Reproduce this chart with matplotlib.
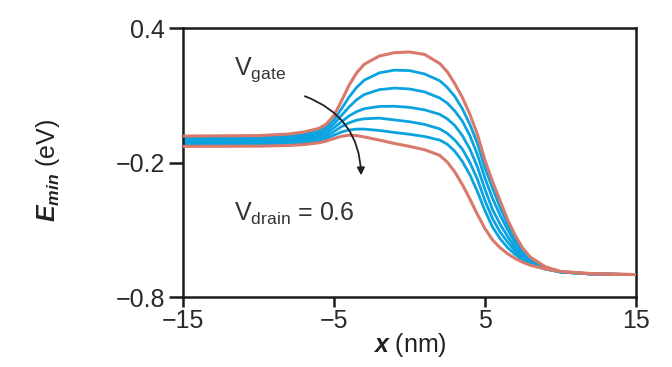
import numpy as np
import matplotlib
matplotlib.use("Agg")
import matplotlib.pyplot as plt

plt.rcParams['font.family'] = ['Liberation Sans', 'DejaVu Sans']
plt.rcParams['mathtext.fontset'] = 'custom'
plt.rcParams['mathtext.rm'] = 'Liberation Sans'
plt.rcParams['mathtext.it'] = 'Liberation Sans:italic:bold'
plt.rcParams['mathtext.bf'] = 'Liberation Sans:bold'

# shared x grid (nm)
x_nm = [-15, -10, -8, -7, -6, -5.5, -5, -4.5, -4, -3.5, -3, -2, -1, 0, 1, 2,
        2.5, 3, 3.5, 4, 4.5, 5, 5.5, 6, 6.5, 7, 7.5, 8, 9, 10, 12, 15]

# outer (red) curves
red_top = [-0.082, -0.080, -0.073, -0.064, -0.048, -0.028, 0.010, 0.075, 0.145, 0.200,
           0.238, 0.275, 0.290, 0.293, 0.282, 0.242, 0.205, 0.152, 0.090, 0.015,
           -0.075, -0.190, -0.285, -0.370, -0.455, -0.525, -0.582, -0.622, -0.665,
           -0.686, -0.697, -0.700]
red_bottom = [-0.128, -0.127, -0.124, -0.120, -0.112, -0.104, -0.093, -0.083, -0.078, -0.080,
              -0.086, -0.100, -0.115, -0.128, -0.143, -0.168, -0.198, -0.242, -0.298, -0.363,
              -0.432, -0.495, -0.545, -0.580, -0.607, -0.628, -0.645, -0.658, -0.675,
              -0.686, -0.695, -0.700]

# inner (blue) curves, one per gate voltage
blue_1 = [-0.090, -0.089, -0.083, -0.075, -0.060, -0.042, -0.010, 0.040, 0.092, 0.135,
          0.167, 0.200, 0.212, 0.210, 0.195, 0.165, 0.135, 0.095, 0.040, -0.030,
          -0.115, -0.225, -0.315, -0.400, -0.475, -0.540, -0.593, -0.630, -0.668,
          -0.687, -0.697, -0.700]
blue_2 = [-0.098, -0.097, -0.092, -0.085, -0.071, -0.055, -0.028, 0.010, 0.048, 0.080,
          0.103, 0.125, 0.132, 0.128, 0.115, 0.088, 0.065, 0.030, -0.015, -0.080,
          -0.165, -0.270, -0.360, -0.435, -0.500, -0.560, -0.603, -0.638, -0.670,
          -0.688, -0.697, -0.700]
blue_3 = [-0.106, -0.105, -0.100, -0.094, -0.082, -0.068, -0.045, -0.018, 0.008, 0.027,
          0.040, 0.050, 0.051, 0.046, 0.035, 0.015, -0.005, -0.035, -0.080, -0.140,
          -0.220, -0.320, -0.410, -0.475, -0.530, -0.580, -0.615, -0.645, -0.672,
          -0.688, -0.697, -0.700]
blue_4 = [-0.113, -0.112, -0.108, -0.102, -0.092, -0.080, -0.062, -0.040, -0.023, -0.011,
          -0.005, -0.002, -0.010, -0.018, -0.030, -0.050, -0.070, -0.100, -0.140, -0.200,
          -0.275, -0.370, -0.450, -0.510, -0.555, -0.595, -0.625, -0.650, -0.674,
          -0.689, -0.697, -0.700]
blue_5 = [-0.120, -0.119, -0.116, -0.111, -0.102, -0.092, -0.078, -0.064, -0.055, -0.051,
          -0.051, -0.057, -0.066, -0.074, -0.084, -0.100, -0.118, -0.150, -0.195, -0.255,
          -0.330, -0.415, -0.488, -0.540, -0.580, -0.610, -0.635, -0.655, -0.676,
          -0.689, -0.697, -0.700]

x_ticks = [-15, -5, 5, 15]
y_ticks = [0.4, -0.2, -0.8]

RED = '#d8796b'
BLUE = '#0ba3df'

fig = plt.figure(figsize=(6.72, 3.67), dpi=100)
ax = fig.add_axes([0.2723, 0.1907, 0.6741, 0.733])

for ys in [blue_1, blue_2, blue_3, blue_4, blue_5]:
    ax.plot(x_nm, ys, color=BLUE, lw=2.0, solid_capstyle='butt',
            solid_joinstyle='round', zorder=2)
for ys in [red_top, red_bottom]:
    ax.plot(x_nm, ys, color=RED, lw=2.2, solid_capstyle='butt',
            solid_joinstyle='round', zorder=3)

ax.set_xlim(-15, 15)
ax.set_ylim(-0.8, 0.4)
ax.set_xticks(x_ticks)
ax.set_yticks(y_ticks)
ax.set_xticklabels([f'{t:g}'.replace('-', '\u2212') for t in x_ticks])
ax.set_yticklabels([f'{t:g}'.replace('-', '\u2212') for t in y_ticks])

for s in ax.spines.values():
    s.set_linewidth(1.8)
    s.set_color('#1a1a1a')
ax.tick_params(axis='x', direction='out', length=7.5, width=1.8, pad=1,
               labelsize=18, colors='#1a1a1a', labelcolor='#2a2a2a')
ax.tick_params(axis='y', direction='out', length=10, width=1.8, pad=3,
               labelsize=18, colors='#1a1a1a', labelcolor='#2a2a2a')

ax.set_xlabel(r'$x$ (nm)', fontsize=18, color='#222222')
ax.xaxis.label.set_va('center')
ax.xaxis.set_label_coords(0.5, -0.18)
ax.set_ylabel(r'$E_{min}$ (eV)', fontsize=18, color='#222222')
ax.yaxis.label.set_va('center')
ax.yaxis.set_label_coords(-0.298, 0.47)

ax.text(-11.6, 0.215, r'V$_\mathregular{gate}$', fontsize=18, color='#333333',
        ha='left', va='center')
ax.text(-11.6, -0.43, r'V$_\mathregular{drain}$ = 0.6', fontsize=18, color='#333333',
        ha='left', va='center')
ax.annotate('', xy=(-3.2, -0.27), xytext=(-7.1, 0.10),
            arrowprops=dict(arrowstyle='-|>', color='#222222', lw=1.3,
                            mutation_scale=11,
                            connectionstyle='arc3,rad=-0.35'),
            zorder=5)

fig.savefig('out.png', dpi=100, facecolor='white')
